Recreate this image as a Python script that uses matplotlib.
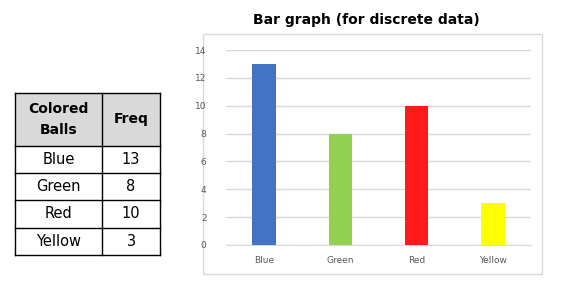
import matplotlib.pyplot as plt
from matplotlib.patches import Rectangle

# ---- データ ----
categories = ['Blue', 'Green', 'Red', 'Yellow']
freq = [13, 8, 10, 3]
bar_colors = ['#4472c4', '#92d050', '#ff1a1a', '#ffff00']
header = ['Colored\nBalls', 'Freq']
yticks = [0, 2, 4, 6, 8, 10, 12, 14]

W, H = 562, 286
fig = plt.figure(figsize=(W / 100, H / 100), dpi=100)

def fx(x):
    return x / W

def fy(y):
    return 1 - y / H

# ---- 表 ----
tab = fig.add_axes([0, 0, 1, 1])
tab.set_xlim(0, W)
tab.set_ylim(H, 0)
tab.axis('off')
col_x = [15, 102, 160]
row_y = [93, 146, 173, 200, 228, 255]
tab.add_patch(Rectangle((col_x[0], row_y[0]), col_x[2] - col_x[0], row_y[1] - row_y[0],
                        facecolor='#d9d9d9', edgecolor='none'))
for y in row_y:
    tab.plot([col_x[0], col_x[2]], [y, y], color='black', lw=1)
for x in col_x:
    tab.plot([x, x], [row_y[0], row_y[-1]], color='black', lw=1)
font = 'DejaVu Sans'
tab.text((col_x[0] + col_x[1]) / 2, (row_y[0] + row_y[1]) / 2, header[0], ha='center', va='center',
         fontsize=10, fontweight='bold', linespacing=1.7, family=font)
tab.text((col_x[1] + col_x[2]) / 2, (row_y[0] + row_y[1]) / 2, header[1], ha='center', va='center',
         fontsize=10, fontweight='bold', family=font)
for i, (c, v) in enumerate(zip(categories, freq)):
    yc = (row_y[i + 1] + row_y[i + 2]) / 2
    tab.text((col_x[0] + col_x[1]) / 2, yc, c, ha='center', va='center', fontsize=10.5, family=font)
    tab.text((col_x[1] + col_x[2]) / 2, yc, str(v), ha='center', va='center', fontsize=10.5, family=font)

# ---- グラフの枠 ----
tab.add_patch(Rectangle((203, 34), 339, 240, facecolor='white', edgecolor='#d9d9d9', lw=1))
tab.text(366, 20, 'Bar graph (for discrete data)', ha='center', va='center',
         fontsize=10, fontweight='bold', family=font)

# ---- 棒グラフ ----
ax = fig.add_axes([fx(226), fy(245), fx(531 - 226), (245 - 50) / H])
x = range(len(categories))
ax.bar(x, freq, width=0.31, color=bar_colors, zorder=3)
ax.set_xlim(-0.5, len(categories) - 0.5)
ax.set_ylim(0, 14)
ax.set_yticks(yticks)
ax.set_xticks(list(x))
ax.set_xticklabels(categories)
ax.tick_params(axis='both', length=0, labelsize=6.5, labelcolor='#595959')
ax.tick_params(axis='x', pad=8)
ax.tick_params(axis='y', pad=14)
ax.grid(axis='y', color='#d9d9d9', lw=1, zorder=0)
for s in ['top', 'right', 'left']:
    ax.spines[s].set_visible(False)
ax.spines['bottom'].set_color('#d9d9d9')
ax.patch.set_alpha(0)

fig.savefig('out.png', dpi=100)
